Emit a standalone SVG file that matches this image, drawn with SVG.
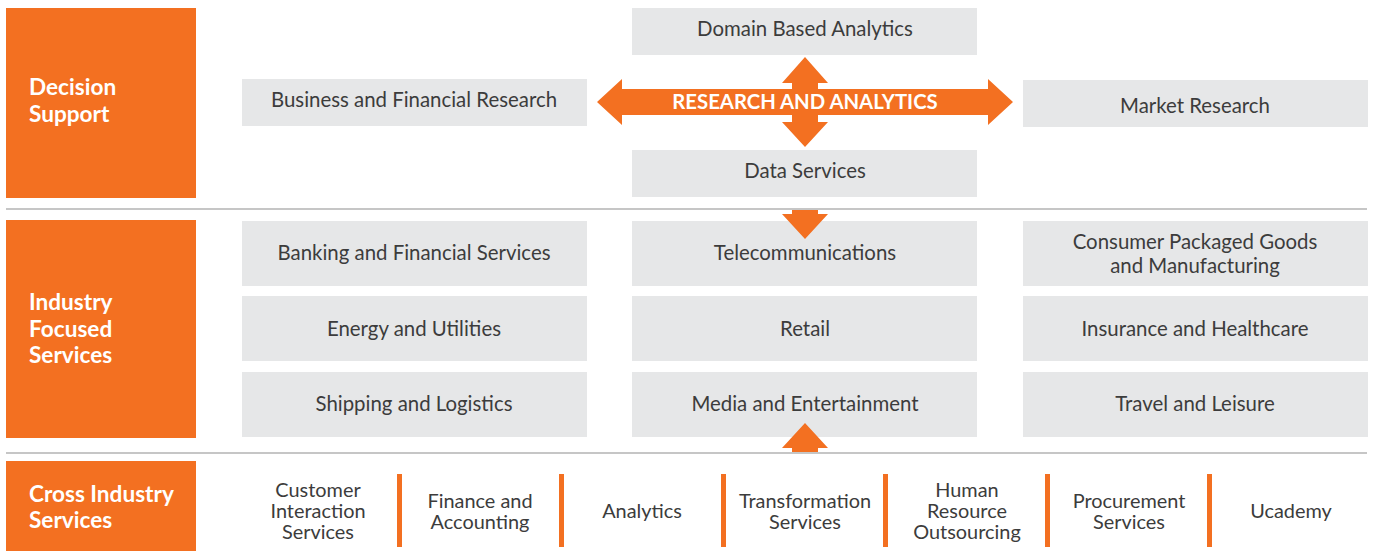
<svg xmlns="http://www.w3.org/2000/svg" width="1373" height="551" viewBox="0 0 1373 551">
<style>
.hdr{fill:#F37021}
.hdrt{fill:#fff;font-family:Lato,"Liberation Sans",sans-serif;font-weight:bold;font-size:22.6px}
.box{fill:#E6E7E8}
.t{fill:#3C3C3C;font-family:Lato,"Liberation Sans",sans-serif;font-size:20.4px;text-anchor:middle}
.c{fill:#3C3C3C;font-family:Lato,"Liberation Sans",sans-serif;font-size:19.9px;text-anchor:middle}
.sep{stroke:#C6C6C6;stroke-width:2}
.bar{fill:#F37021}
.arr{fill:#F37021}
</style>
<g id="sections">
<line class="sep" x1="6" y1="209" x2="1367" y2="209"/>
<line class="sep" x1="6" y1="453" x2="1367" y2="453"/>
</g>
<g id="decision-support"><rect class="hdr" x="6" y="8" width="190" height="190"/><text class="hdrt" x="29" y="95">Decision</text><text class="hdrt" x="29" y="122">Support</text></g>
<g id="industry-focused"><rect class="hdr" x="6" y="220" width="190" height="218"/><text class="hdrt" x="29" y="310">Industry</text><text class="hdrt" x="29" y="337">Focused</text><text class="hdrt" x="29" y="363">Services</text></g>
<g id="cross-industry"><rect class="hdr" x="6" y="461" width="190" height="90"/><text class="hdrt" x="29" y="502">Cross Industry</text><text class="hdrt" x="29" y="528">Services</text></g>
<g id="domain"><rect class="box" x="632" y="8" width="345" height="47"/><text class="t" x="805" y="36">Domain Based Analytics</text></g>
<g id="bfr"><rect class="box" x="242" y="79" width="345" height="47"/><text class="t" x="414" y="107">Business and Financial Research</text></g>
<g id="market"><rect class="box" x="1023" y="80" width="345" height="47"/><text class="t" x="1195" y="113">Market Research</text></g>
<g id="data"><rect class="box" x="632" y="150" width="345" height="47"/><text class="t" x="805" y="178">Data Services</text></g>
<g id="banking"><rect class="box" x="242" y="221" width="345" height="65"/><text class="t" x="414" y="260">Banking and Financial Services</text></g>
<g id="telecom"><rect class="box" x="632" y="221" width="345" height="65"/><text class="t" x="805" y="260">Telecommunications</text></g>
<g id="cpg"><rect class="box" x="1023" y="221" width="345" height="65"/><text class="t" x="1195" y="249">Consumer Packaged Goods</text><text class="t" x="1195" y="273">and Manufacturing</text></g>
<g id="energy"><rect class="box" x="242" y="296" width="345" height="65"/><text class="t" x="414" y="336">Energy and Utilities</text></g>
<g id="retail"><rect class="box" x="632" y="296" width="345" height="65"/><text class="t" x="805" y="336">Retail</text></g>
<g id="insurance"><rect class="box" x="1023" y="296" width="345" height="65"/><text class="t" x="1195" y="336">Insurance and Healthcare</text></g>
<g id="shipping"><rect class="box" x="242" y="372" width="345" height="65"/><text class="t" x="414" y="411">Shipping and Logistics</text></g>
<g id="media"><rect class="box" x="632" y="372" width="345" height="65"/><text class="t" x="805" y="411">Media and Entertainment</text></g>
<g id="travel"><rect class="box" x="1023" y="372" width="345" height="65"/><text class="t" x="1195" y="411">Travel and Leisure</text></g>
<g id="research-analytics">
<polygon class="arr" points="597,102 622,79 622,89 988,89 988,79 1013,102 988,125 988,115 622,115 622,125"/>
<polygon class="arr" points="805,57 828,83 818,83 818,122 828,122 805,147 782,122 792,122 792,83 782,83"/>
<text x="805" y="109" text-anchor="middle" fill="#fff" font-family="Lato,'Liberation Sans',sans-serif" font-weight="bold" font-size="20.3px">RESEARCH AND ANALYTICS</text>
</g>
<g id="connectors">
<polygon class="arr" points="792,210 818,210 818,214 828,214 805,239 782,214 792,214"/>
<polygon class="arr" points="805,423 828,448 818,448 818,452 792,452 792,448 782,448"/>
</g>
<g id="cross-items">
<rect class="bar" x="397" y="474" width="5" height="73"/>
<rect class="bar" x="559" y="474" width="5" height="73"/>
<rect class="bar" x="721" y="474" width="5" height="73"/>
<rect class="bar" x="883" y="474" width="5" height="73"/>
<rect class="bar" x="1045" y="474" width="5" height="73"/>
<rect class="bar" x="1207" y="474" width="5" height="73"/>
<g id="cis"><text class="c" x="318" y="497">Customer</text><text class="c" x="318" y="518">Interaction</text><text class="c" x="318" y="539">Services</text></g>
<g id="fa"><text class="c" x="480" y="508">Finance and</text><text class="c" x="480" y="529">Accounting</text></g>
<g id="an"><text class="c" x="642" y="518">Analytics</text></g>
<g id="ts"><text class="c" x="805" y="508">Transformation</text><text class="c" x="805" y="529">Services</text></g>
<g id="hro"><text class="c" x="967" y="497">Human</text><text class="c" x="967" y="518">Resource</text><text class="c" x="967" y="539">Outsourcing</text></g>
<g id="ps"><text class="c" x="1129" y="508">Procurement</text><text class="c" x="1129" y="529">Services</text></g>
<g id="uc"><text class="c" x="1291" y="518">Ucademy</text></g>
</g>
</svg>
